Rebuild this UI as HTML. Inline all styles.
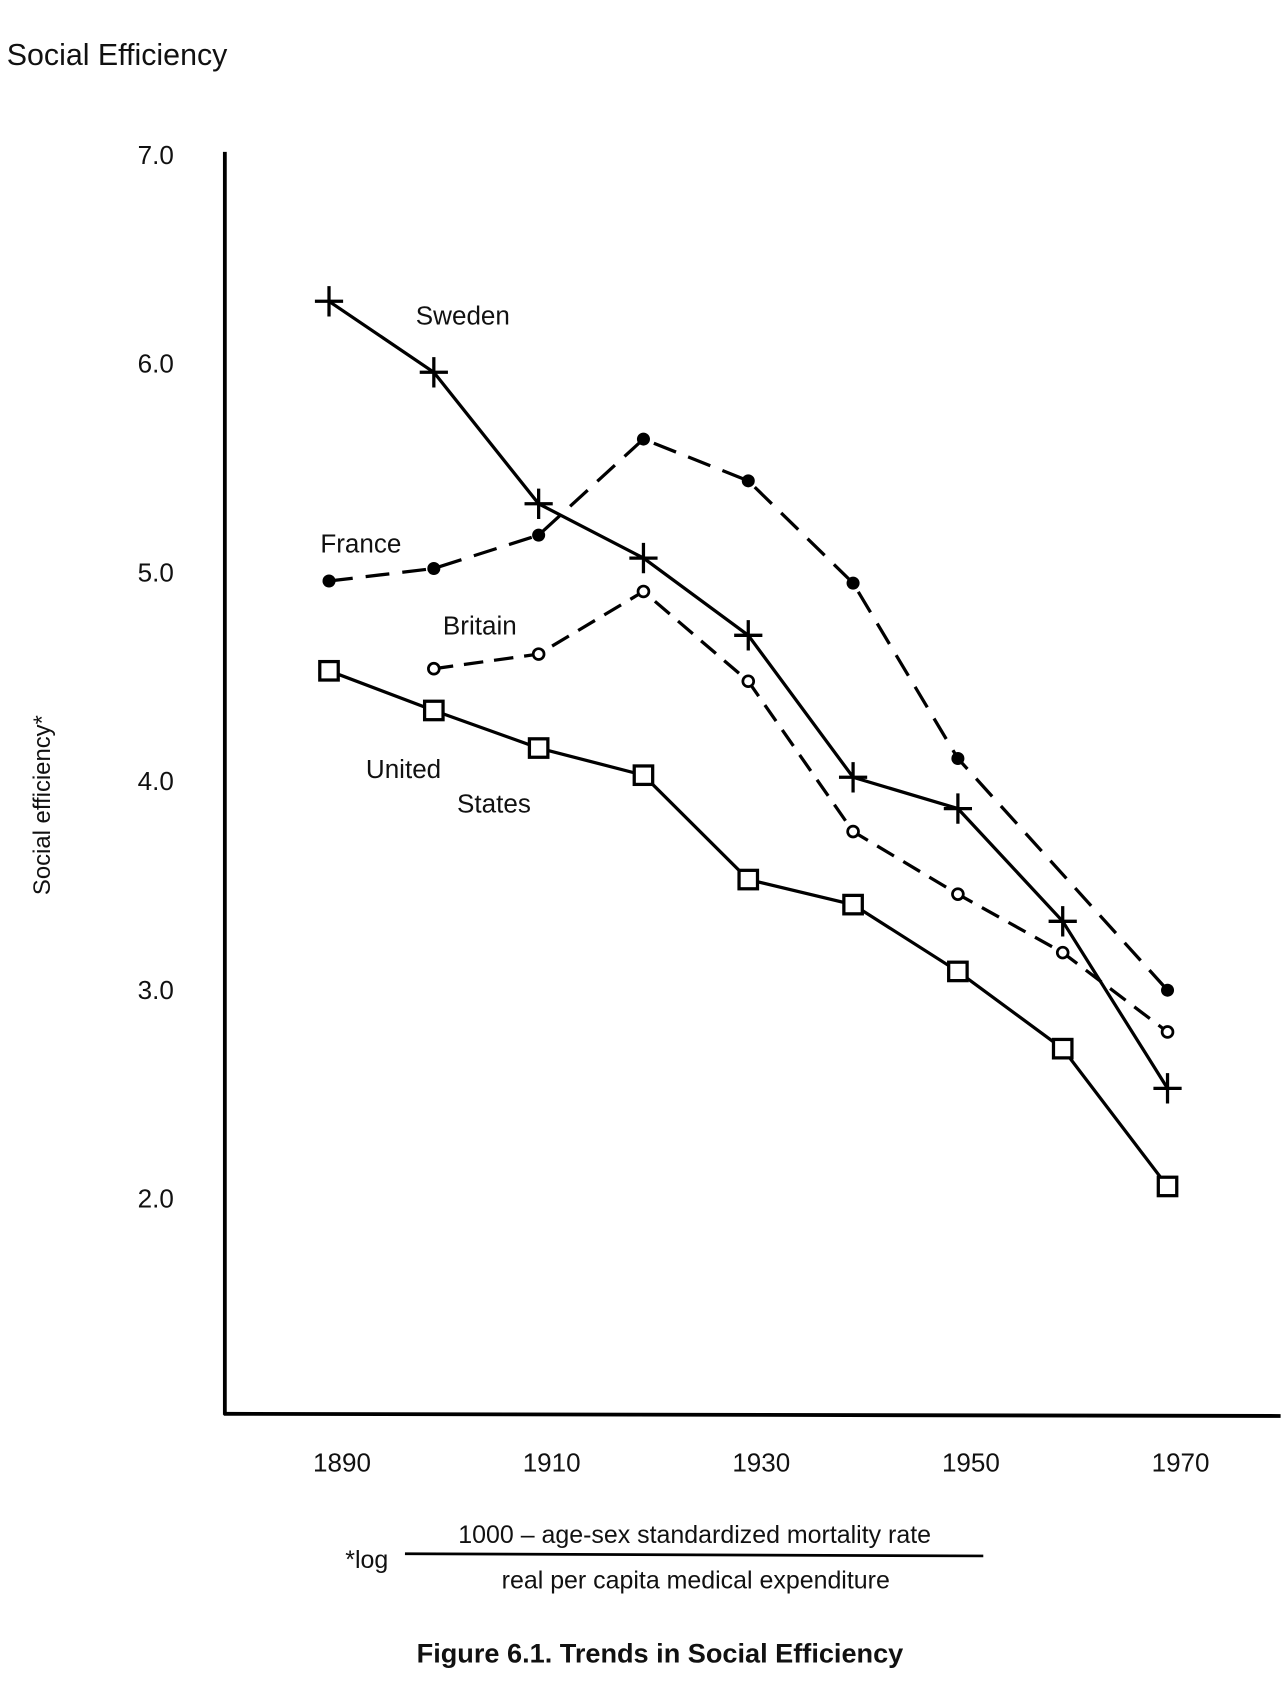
<!DOCTYPE html>
<html><head><meta charset="utf-8"><style>
html,body{margin:0;padding:0;background:#fff;}
svg{display:block;font-family:"Liberation Sans",Arial,sans-serif;}
</style></head><body>
<svg id="chart" width="1283" height="1697" viewBox="0 0 1182 1564" xmlns="http://www.w3.org/2000/svg">
<text x="6" y="60" font-size="28" fill="#111">Social Efficiency</text>
<text transform="translate(46,742) rotate(-90)" text-anchor="middle" font-size="22" fill="#111">Social efficiency*</text>
<line x1="207" y1="140" x2="207" y2="1304" stroke="#000" stroke-width="3.5"/>
<line x1="206" y1="1303" x2="1180" y2="1305" stroke="#000" stroke-width="3.5"/>
<g id="yticks"></g><g id="xticks"></g><g id="series"></g>
<text x="383" y="299" font-size="24" fill="#111">Sweden</text>
<text x="295" y="509" font-size="24" fill="#111">France</text>
<text x="408" y="585" font-size="24" fill="#111">Britain</text>
<text x="337" y="717" font-size="24" fill="#111">United</text>
<text x="421" y="749" font-size="24" fill="#111">States</text>
<text x="318" y="1445" font-size="23" fill="#111">*log</text>
<text x="640" y="1422" text-anchor="middle" font-size="23" fill="#111">1000 – age-sex standardized mortality rate</text>
<line x1="373" y1="1432" x2="906" y2="1434" stroke="#000" stroke-width="2.5"/>
<text x="641" y="1464" text-anchor="middle" font-size="23" fill="#111">real per capita medical expenditure</text>
<text x="608" y="1532" text-anchor="middle" font-size="25" font-weight="bold" fill="#111">Figure 6.1.  Trends in Social Efficiency</text>
</svg>
<script>
const yTicks=[7.0,6.0,5.0,4.0,3.0,2.0];
const xTickYears=[1890,1910,1930,1950,1970];
const yearsSweden=[1890,1900,1910,1920,1930,1940,1950,1960,1970];
const valuesSweden=[6.30,5.96,5.33,5.07,4.70,4.02,3.87,3.33,2.53];
const yearsFrance=[1890,1900,1910,1920,1930,1940,1950,1970];
const valuesFrance=[4.96,5.02,5.18,5.64,5.44,4.95,4.11,3.00];
const yearsBritain=[1900,1910,1920,1930,1940,1950,1960,1970];
const valuesBritain=[4.54,4.61,4.91,4.48,3.76,3.46,3.18,2.80];
const yearsUS=[1890,1900,1910,1920,1930,1940,1950,1960,1970];
const valuesUS=[4.53,4.34,4.16,4.03,3.53,3.41,3.09,2.72,2.06];

const NS="http://www.w3.org/2000/svg";
function xs(yr){return 303+(yr-1890)*9.66;}
function ys(v){return 143+(7-v)*192.4;}
function mk(tag,attrs,parent){const e=document.createElementNS(NS,tag);for(const k in attrs)e.setAttribute(k,attrs[k]);parent.appendChild(e);return e;}

const yg=document.getElementById('yticks');
yTicks.forEach(v=>{const t=mk('text',{x:160,y:ys(v)+8,'text-anchor':'end','font-size':24,fill:'#111'},yg);


t.textContent=v.toFixed(1);});
const xg=document.getElementById('xticks');
xTickYears.forEach(yr=>{const t=mk('text',{x:xs(yr)+12,y:1356,'text-anchor':'middle','font-size':24,fill:'#111'},xg);


t.textContent=yr;});

const sg=document.getElementById('series');
function line(years,vals,dash,name){const pts=years.map((y,i)=>xs(y)+','+ys(vals[i])).join(' ');
const p=mk('polyline',{points:pts,fill:'none',stroke:'#000','stroke-width':3,'stroke-dasharray':dash||'none'},sg);

}
line(yearsFrance,valuesFrance,'22,12','france-line');
line(yearsBritain,valuesBritain,'18,10','britain-line');
line(yearsSweden,valuesSweden,null,'sweden-line');
line(yearsUS,valuesUS,null,'united-states-line');

yearsSweden.forEach((yr,i)=>{const x=xs(yr),y=ys(valuesSweden[i]);
const g=mk('path',{d:`M${x-13},${y}H${x+13}M${x},${y-14}V${y+14}`,stroke:'#000','stroke-width':3},sg);

});
yearsFrance.forEach((yr,i)=>{const c=mk('circle',{cx:xs(yr),cy:ys(valuesFrance[i]),r:6,fill:'#000'},sg);

});
yearsBritain.forEach((yr,i)=>{const c=mk('circle',{cx:xs(yr),cy:ys(valuesBritain[i]),r:5,fill:'#fff',stroke:'#000','stroke-width':2.5},sg);

});
yearsUS.forEach((yr,i)=>{const r=mk('rect',{x:xs(yr)-8.5,y:ys(valuesUS[i])-8.5,width:17,height:17,fill:'#fff',stroke:'#000','stroke-width':3},sg);

});
</script>
</body></html>
